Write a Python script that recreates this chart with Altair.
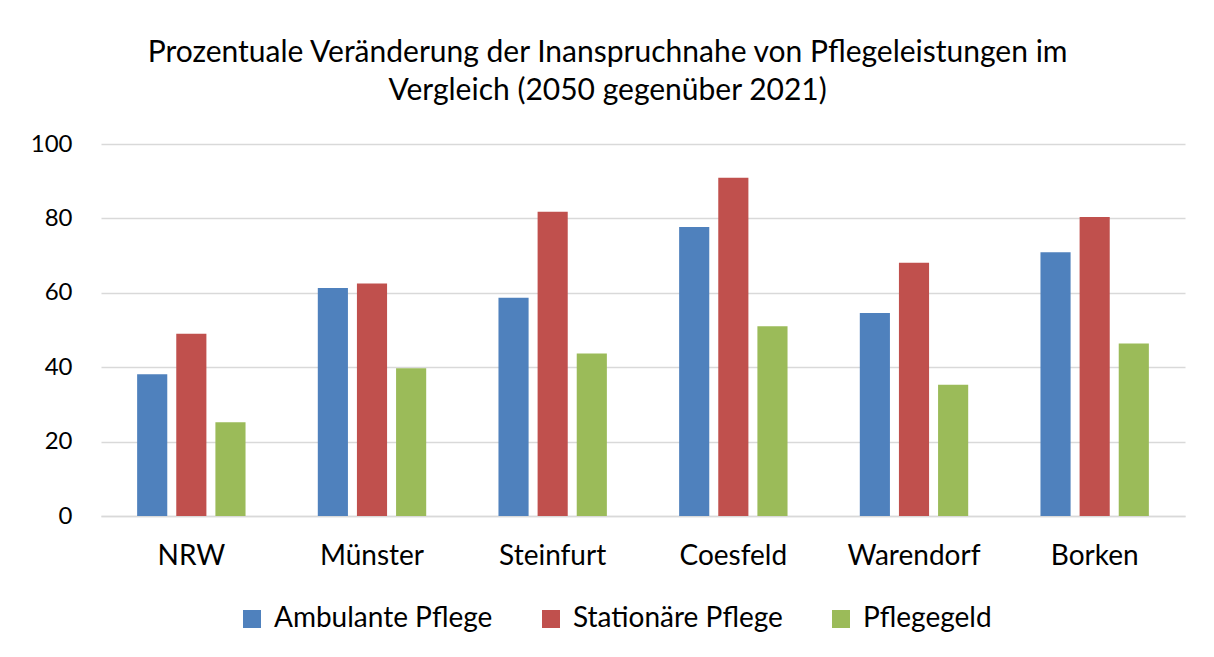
import altair as alt
import pandas as pd

regions = ["NRW", "Münster", "Steinfurt", "Coesfeld", "Warendorf", "Borken"]
series = ["Ambulante Pflege", "Stationäre Pflege", "Pflegegeld"]
ambulant = [38.1, 61.3, 58.7, 77.7, 54.6, 70.9]
stationaer = [49.0, 62.5, 81.8, 90.9, 68.1, 80.4]
pflegegeld = [25.2, 39.7, 43.7, 51.0, 35.3, 46.4]
colors = ["#4F81BD", "#C0504D", "#9BBB59"]
y_ticks = [0, 20, 40, 60, 80, 100]

rows = []
for s, vals in zip(series, [ambulant, stationaer, pflegegeld]):
    for r, v in zip(regions, vals):
        rows.append({"Region": r, "Serie": s, "Wert": v})
df = pd.DataFrame(rows)

FONT = "Lato"

chart = alt.Chart(df).mark_bar().encode(
    x=alt.X("Region:N", sort=regions, title=None,
            scale=alt.Scale(paddingInner=0.4, paddingOuter=0.2),
            axis=alt.Axis(labelAngle=0, labelFontSize=28, labelColor="#000000",
                          labelFont=FONT, labelPadding=26, ticks=False,
                          domainColor="#d9d9d9", domainWidth=1.5)),
    xOffset=alt.XOffset("Serie:N", sort=series,
                        scale=alt.Scale(paddingInner=0.23, paddingOuter=0)),
    y=alt.Y("Wert:Q", title=None,
            scale=alt.Scale(domain=[0, 100]),
            axis=alt.Axis(values=y_ticks, labelFontSize=24, labelColor="#000000",
                          labelFont=FONT, labelPadding=29, ticks=False, domain=False,
                          gridColor="#d9d9d9", gridWidth=1.5)),
    color=alt.Color("Serie:N", sort=series,
                    scale=alt.Scale(domain=series, range=colors),
                    legend=alt.Legend(orient="none", direction="horizontal", title=None,
                                      legendX=137, legendY=461,
                                      symbolType="square", symbolSize=324,
                                      symbolStrokeWidth=0, labelLimit=400,
                                      labelFontSize=28, labelFont=FONT,
                                      labelColor="#000000", columnPadding=44,
                                      labelOffset=8)),
).properties(
    width=1084,
    height=372,
    padding={"left": 22, "top": 30, "right": 12, "bottom": 10},
    title=alt.Title(
        ["Prozentuale Veränderung der Inanspruchnahe von Pflegeleistungen im",
         "Vergleich (2050 gegenüber 2021)"],
        fontSize=30, fontWeight="normal", font=FONT, color="#000000",
        anchor="middle", frame="bounds", offset=26, lineHeight=38,
    ),
).configure_view(stroke=None)

chart.save("out.html", embed_options={"renderer": "svg", "actions": False})
